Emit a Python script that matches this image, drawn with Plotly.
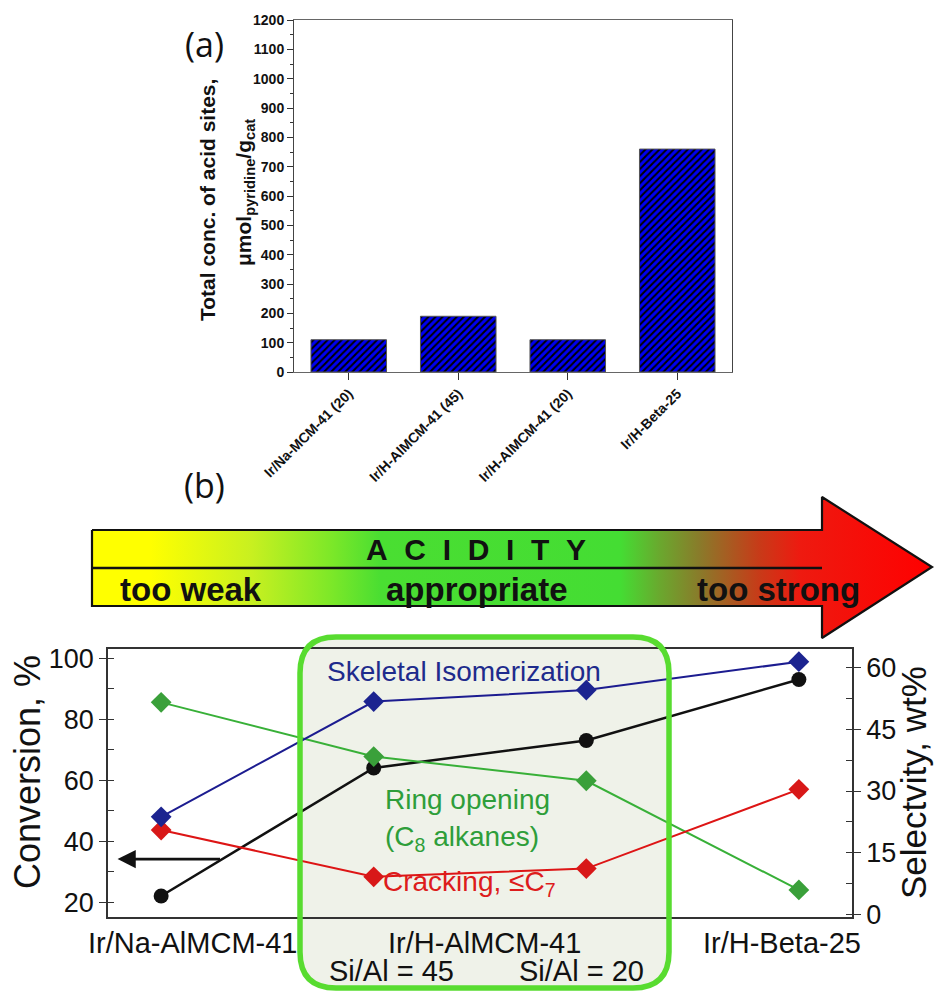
import plotly.graph_objects as go

W, H = 941, 994

# ---- (a) total concentration of acid sites ----
catalysts_a = ["Ir/Na-MCM-41 (20)", "Ir/H-AlMCM-41 (45)", "Ir/H-AlMCM-41 (20)", "Ir/H-Beta-25"]
acid_sites = [110, 190, 110, 760]

# ---- (b) conversion and selectivities ----
positions_b = [0, 1, 2, 3]
conversion = [22, 64, 73, 93]          # %, left axis
skeletal_iso = [23.7, 51.8, 54.6, 61.5]  # wt%, right axis
ring_opening = [51.6, 38.4, 32.5, 5.9]
cracking = [20.5, 9.1, 11.1, 30.4]

# category labels under panel (b)
label_na = "Ir/Na-AlMCM-41"
label_h = "Ir/H-AlMCM-41"
label_beta = "Ir/H-Beta-25"
label_si45 = "Si/Al = 45"
label_si20 = "Si/Al = 20"

FONT = "Liberation Sans, Arial, sans-serif"


def fx(px):
    return px / W


def fy(py):
    return 1 - py / H


fig = go.Figure()

# bars with diagonal hatching
fig.add_trace(go.Bar(
    x=catalysts_a, y=acid_sites, xaxis="x", yaxis="y", width=0.69,
    marker=dict(color="#0000f0", line=dict(color="#555555", width=1),
                pattern=dict(shape="/", fgcolor="#000000", bgcolor="#0000f0",
                             size=5, solidity=0.4)),
    showlegend=False,
))

# conversion (left axis)
fig.add_trace(go.Scatter(
    x=positions_b, y=conversion, xaxis="x2", yaxis="y2", mode="lines+markers",
    line=dict(color="#111111", width=2.5),
    marker=dict(symbol="circle", size=15, color="#111111"), showlegend=False,
))
# selectivities (right axis)
fig.add_trace(go.Scatter(
    x=positions_b, y=ring_opening, xaxis="x2", yaxis="y3", mode="lines+markers",
    line=dict(color="#38b038", width=2),
    marker=dict(symbol="diamond", size=16, color="#3aa03a"), showlegend=False,
))
fig.add_trace(go.Scatter(
    x=positions_b, y=cracking, xaxis="x2", yaxis="y3", mode="lines+markers",
    line=dict(color="#dd1515", width=2),
    marker=dict(symbol="diamond", size=16, color="#d81818"), showlegend=False,
))
fig.add_trace(go.Scatter(
    x=positions_b, y=skeletal_iso, xaxis="x2", yaxis="y3", mode="lines+markers",
    line=dict(color="#1c1c90", width=2),
    marker=dict(symbol="diamond", size=16, color="#1c2490"), showlegend=False,
))

# ACIDITY arrow outline (page pixel frame) with a yellow -> green -> red gradient
arrow_x = [92, 822, 822, 932, 822, 822, 92, 92]
arrow_y = [530, 530, 497, 567, 638, 606, 606, 530]
fig.add_trace(go.Scatter(
    x=arrow_x, y=arrow_y, xaxis="x3", yaxis="y4", mode="lines", fill="toself",
    line=dict(color="#111111", width=2.2),
    fillgradient=dict(type="horizontal", colorscale=[
        [0.0, "#ffff00"], [0.07, "#ffff00"], [0.19, "#c8f020"],
        [0.283, "#7ee828"], [0.343, "#4ade32"], [0.629, "#44dd33"],
        [0.676, "#6aa82e"], [0.724, "#8a7a2a"], [0.795, "#c83a18"],
        [0.843, "#ee1a10"], [1.0, "#ff0000"]]),
    hoverinfo="skip", showlegend=False,
))

axis_common = dict(showline=True, mirror=True, zeroline=False, showgrid=False,
                   automargin=False)

fig.update_layout(
    template="none",
    width=W, height=H, margin=dict(l=0, r=0, t=0, b=0, pad=0),
    paper_bgcolor="white", plot_bgcolor="rgba(0,0,0,0)",
    font=dict(family=FONT, color="#111111"),
    showlegend=False,
    xaxis=dict(domain=[fx(294), fx(732)], anchor="y", type="category",
               range=[-0.5, 3.5], linecolor="#666666", linewidth=1,
               ticks="outside", ticklen=7, tickcolor="#333333", tickangle=-45,
               tickfont=dict(size=14, weight="bold", color="#111111"),
               **axis_common),
    yaxis=dict(domain=[fy(372), fy(20)], anchor="x", range=[0, 1200],
               tick0=0, dtick=100, ticks="outside", ticklen=6, tickcolor="#333333",
               minor=dict(dtick=50, ticks="outside", ticklen=3, tickcolor="#333333"),
               linecolor="#444444", linewidth=1,
               tickfont=dict(size=14, weight="bold", color="#111111"),
               **axis_common),
    xaxis2=dict(domain=[fx(108), fx(852)], anchor="y2", range=[-0.25, 3.25],
                showticklabels=False, ticks="", linecolor="#333333", linewidth=1.5,
                **axis_common),
    yaxis2=dict(domain=[fy(917), fy(649)], anchor="x2", range=[15.1, 103],
                tick0=20, dtick=20, ticks="outside", ticklen=7, tickcolor="#333333",
                minor=dict(dtick=10, ticks="inside", ticklen=6, tickcolor="#333333"),
                linecolor="#333333", linewidth=1.5,
                tickfont=dict(size=27, color="#111111"), **axis_common),
    yaxis3=dict(overlaying="y2", side="right", anchor="x2", range=[-0.7, 64.6],
                tick0=0, dtick=15, ticks="outside", ticklen=7, tickcolor="#333333",
                minor=dict(dtick=7.5, ticks="inside", ticklen=6, tickcolor="#333333"),
                showline=True, linecolor="#333333", linewidth=1.5, zeroline=False,
                showgrid=False, automargin=False,
                tickfont=dict(size=27, color="#111111")),
    xaxis3=dict(domain=[0, 1], anchor="y4", range=[0, W], visible=False,
                fixedrange=True, automargin=False),
    yaxis4=dict(domain=[0, 1], anchor="x3", range=[H, 0], visible=False,
                fixedrange=True, automargin=False),
)


def rounded_rect(x0, y0, x1, y1, r):
    pts = [
        ("M", [(x0 + r, y0)]), ("L", [(x1 - r, y0)]), ("Q", [(x1, y0), (x1, y0 + r)]),
        ("L", [(x1, y1 - r)]), ("Q", [(x1, y1), (x1 - r, y1)]), ("L", [(x0 + r, y1)]),
        ("Q", [(x0, y1), (x0, y1 - r)]), ("L", [(x0, y0 + r)]), ("Q", [(x0, y0), (x0 + r, y0)]),
    ]
    out = []
    for cmd, ps in pts:
        out.append(cmd + " " + " ".join(f"{fx(a):.5f},{fy(b):.5f}" for a, b in ps))
    return " ".join(out) + " Z"


box_path = rounded_rect(300, 637, 669, 988, 36)
shapes = [
    # highlighted "appropriate" region: fill under the data, border above
    dict(type="path", xref="paper", yref="paper", path=box_path, layer="below",
         fillcolor="#eff2e9", line=dict(width=0)),
    dict(type="path", xref="paper", yref="paper", path=box_path, layer="above",
         fillcolor="rgba(0,0,0,0)", line=dict(color="#58dc30", width=5.5)),
    # divider inside the acidity arrow
    dict(type="line", xref="paper", yref="paper", x0=fx(92), x1=fx(822),
         y0=fy(568), y1=fy(568), line=dict(color="#111111", width=2.5)),
]
fig.update_layout(shapes=shapes)

ann = []


def text(x, y, s, size, color="#111111", family=FONT, angle=0, xanchor="center", **kw):
    ann.append(dict(x=fx(x), y=fy(y), xref="paper", yref="paper", text=s, showarrow=False,
                    textangle=angle, xanchor=xanchor, yanchor="middle",
                    font=dict(size=size, color=color, family=family), **kw))


# panel letters
text(204, 44, "(a)", 34, family="Open Sans, sans-serif")
text(204, 485, "(b)", 34, family="Open Sans, sans-serif")

# panel (a) y-axis title
text(207, 200, "<b>Total conc. of acid sites,</b>", 21, angle=-90)
text(245, 193, "<b>μmol<sub>pyridine</sub>/g<sub>cat</sub></b>", 21, angle=-90)

# acidity arrow labels
nb = "\u00a0\u00a0"
text(476, 549, "<b>" + nb.join("ACIDITY") + "</b>", 30)
text(191, 589, "<b>too weak</b>", 33)
text(477, 589, "<b>appropriate</b>", 33)
text(778, 589, "<b>too strong</b>", 33)

# panel (b) axis titles
text(27, 772, "Conversion, %", 36, angle=-90)
text(913, 783, "Selectvity, wt%", 35, angle=-90)

# series labels
text(325, 671, "Skeletal Isomerization", 28, color="#1e2b8c", xanchor="left")
text(383, 799, "Ring opening", 28, color="#2e9e3a", xanchor="left")
text(383, 838, "(C<sub>8</sub> alkanes)", 28, color="#2e9e3a", xanchor="left")
text(381, 883, "Cracking, ≤C<sub>7</sub>", 28, color="#dd1c1c", xanchor="left")

fig.update_layout(annotations=ann)

# category labels tied to the bottom x axis
for xv, shift, y, s in [(0, 31, 943, label_na), (1.5, 4, 943, label_h), (3, -17, 943, label_beta),
                        (1, 18, 971, label_si45), (2, -5, 971, label_si20)]:
    fig.add_annotation(x=xv, xref="x2", y=fy(y), yref="paper", text=s, showarrow=False,
                       xshift=shift, xanchor="center", yanchor="middle",
                       font=dict(size=29, family=FONT, color="#111111"))

# arrow pointing conversion data to the left axis
fig.add_annotation(x=-0.205, y=34.1, xref="x2", yref="y2", ax=0.284, ay=34.1,
                   axref="x2", ayref="y2", text="", showarrow=True, arrowhead=2,
                   arrowsize=1.3, arrowwidth=2.8, arrowcolor="#111111")

fig.write_html("out.html")
